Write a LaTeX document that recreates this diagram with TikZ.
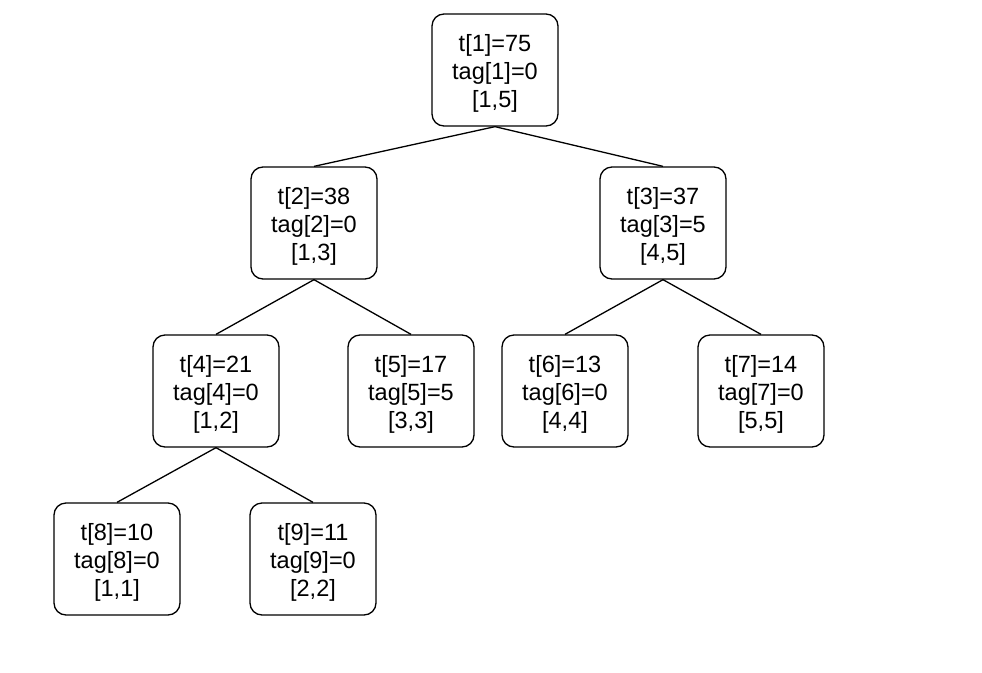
\documentclass[tikz,border=0pt]{standalone}
\usepackage{fontspec}
\setmainfont{Liberation Sans}
\newcommand{\topstrut}{\rule{0pt}{23pt}}
\begin{document}
\begin{tikzpicture}[x=1pt,y=-1pt,
  box/.style={draw=black, line width=1.3pt, rounded corners=12pt, minimum width=126pt, minimum height=112pt, align=center, inner sep=0pt, font=\fontsize{23.5}{28}\selectfont},
  edge/.style={draw=black, line width=1.3pt}]
\useasboundingbox (0,0) rectangle (982,672);
\fill[white] (0,0) rectangle (982,672);
\node[box] (n1) at (495,70) {\topstrut t[1]=75\\tag[1]=0\\{}[1,5]};
\node[box] (n2) at (314,223) {\topstrut t[2]=38\\tag[2]=0\\{}[1,3]};
\node[box] (n3) at (663,223) {\topstrut t[3]=37\\tag[3]=5\\{}[4,5]};
\node[box] (n4) at (216,391) {\topstrut t[4]=21\\tag[4]=0\\{}[1,2]};
\node[box] (n5) at (411,391) {\topstrut t[5]=17\\tag[5]=5\\{}[3,3]};
\node[box] (n6) at (565,391) {\topstrut t[6]=13\\tag[6]=0\\{}[4,4]};
\node[box] (n7) at (761,391) {\topstrut t[7]=14\\tag[7]=0\\{}[5,5]};
\node[box] (n8) at (117,559) {\topstrut t[8]=10\\tag[8]=0\\{}[1,1]};
\node[box] (n9) at (313,559) {\topstrut t[9]=11\\tag[9]=0\\{}[2,2]};
\draw[edge] (n1.south) -- (n2.north);
\draw[edge] (n1.south) -- (n3.north);
\draw[edge] (n2.south) -- (n4.north);
\draw[edge] (n2.south) -- (n5.north);
\draw[edge] (n3.south) -- (n6.north);
\draw[edge] (n3.south) -- (n7.north);
\draw[edge] (n4.south) -- (n8.north);
\draw[edge] (n4.south) -- (n9.north);
\end{tikzpicture}
\end{document}
